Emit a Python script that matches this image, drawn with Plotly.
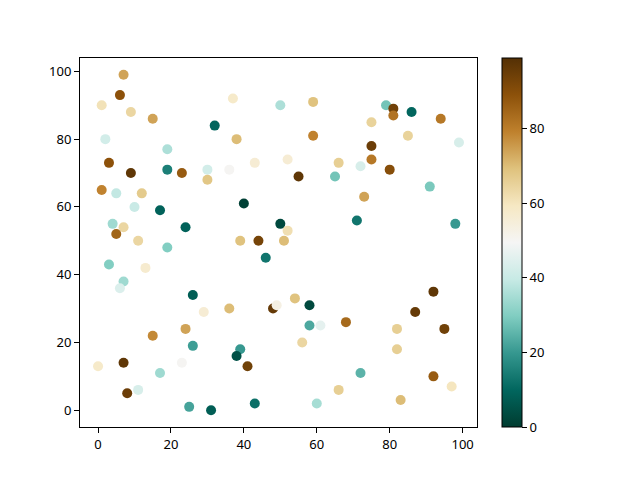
import plotly.graph_objects as go

# scatter points
x_vals = [7, 6, 1, 9, 15, 32, 2, 19, 3, 9, 19, 23, 30, 30, 1, 5, 12, 10, 17, 4,
          7, 5, 11, 24, 19, 37, 50, 59, 38, 59, 36, 43, 52, 55, 65, 66, 40, 50, 52, 39,
          44, 51, 79, 81, 81, 86, 94, 75, 85, 99, 75, 75, 72, 80, 91, 73, 71, 98, 3, 13,
          7, 6, 26, 29, 24, 15, 26, 0, 7, 23, 17, 11, 8, 25, 31, 46, 36, 48, 49, 54,
          58, 58, 61, 68, 56, 39, 38, 41, 66, 43, 60, 92, 87, 82, 95, 82, 72, 92, 97, 83]
y_vals = [99, 93, 90, 88, 86, 84, 80, 77, 73, 70, 71, 70, 71, 68, 65, 64, 64, 60, 59, 55,
          54, 52, 50, 54, 48, 92, 90, 91, 80, 81, 71, 73, 74, 69, 69, 73, 61, 55, 53, 50,
          50, 50, 90, 89, 87, 88, 86, 85, 81, 79, 78, 74, 72, 71, 66, 63, 56, 55, 43, 42,
          38, 36, 34, 29, 24, 22, 19, 13, 14, 14, 11, 6, 5, 1, 0, 45, 30, 30, 31, 33,
          31, 25, 25, 26, 20, 18, 16, 13, 6, 2, 2, 35, 29, 24, 24, 18, 11, 10, 7, 3]
c_vals = [74, 89, 61, 64, 74, 10, 42, 36, 89, 97, 15, 87, 42, 68, 79, 39, 67, 40, 9, 34,
          64, 85, 64, 9, 30, 58, 36, 69, 70, 79, 50, 56, 56, 97, 28, 66, 1, 3, 62, 69,
          93, 70, 28, 94, 82, 10, 81, 65, 65, 43, 95, 81, 43, 90, 29, 74, 13, 20, 30, 57,
          34, 44, 8, 56, 74, 78, 21, 58, 97, 50, 34, 43, 95, 22, 8, 13, 70, 96, 53, 69,
          3, 23, 46, 84, 64, 20, 5, 94, 66, 12, 35, 97, 96, 66, 94, 66, 25, 87, 60, 70]
cbar_ticks = [0, 20, 40, 60, 80]

fig = go.Figure()
fig.add_trace(go.Scatter(
    x=x_vals, y=y_vals, mode="markers",
    marker=dict(
        size=10, color=c_vals, colorscale="BrBG_r", cmin=0, cmax=99,
        line=dict(width=0),
        colorbar=dict(
            x=1.063, xanchor="left", y=0.5, yanchor="middle", len=1, lenmode="fraction",
            thickness=20, thicknessmode="pixels", outlinewidth=1, outlinecolor="black",
            tickvals=cbar_ticks, ticks="outside", ticklen=5, tickcolor="black",
            tickfont=dict(size=13, color="black"), xpad=0, ypad=0,
        ),
    ),
    showlegend=False,
))

axis_style = dict(
    showgrid=False, zeroline=False, showline=True, linecolor="black", linewidth=1,
    mirror=True, ticks="outside", ticklen=5, tickcolor="black",
    tickfont=dict(size=13, color="black"),
)
fig.update_xaxes(range=[-4.95, 103.95], tickvals=[0, 20, 40, 60, 80, 100], **axis_style)
fig.update_yaxes(range=[-4.95, 103.95], tickvals=[0, 20, 40, 60, 80, 100], **axis_style)

# page body adds an 8px offset, so margins are shifted to compensate
fig.update_layout(
    width=640, height=480, template="none",
    paper_bgcolor="white", plot_bgcolor="white",
    font=dict(family="Noto Sans", size=13, color="black"),
    margin=dict(l=72, r=171, t=50, b=61),
)
fig.write_html("out.html")
